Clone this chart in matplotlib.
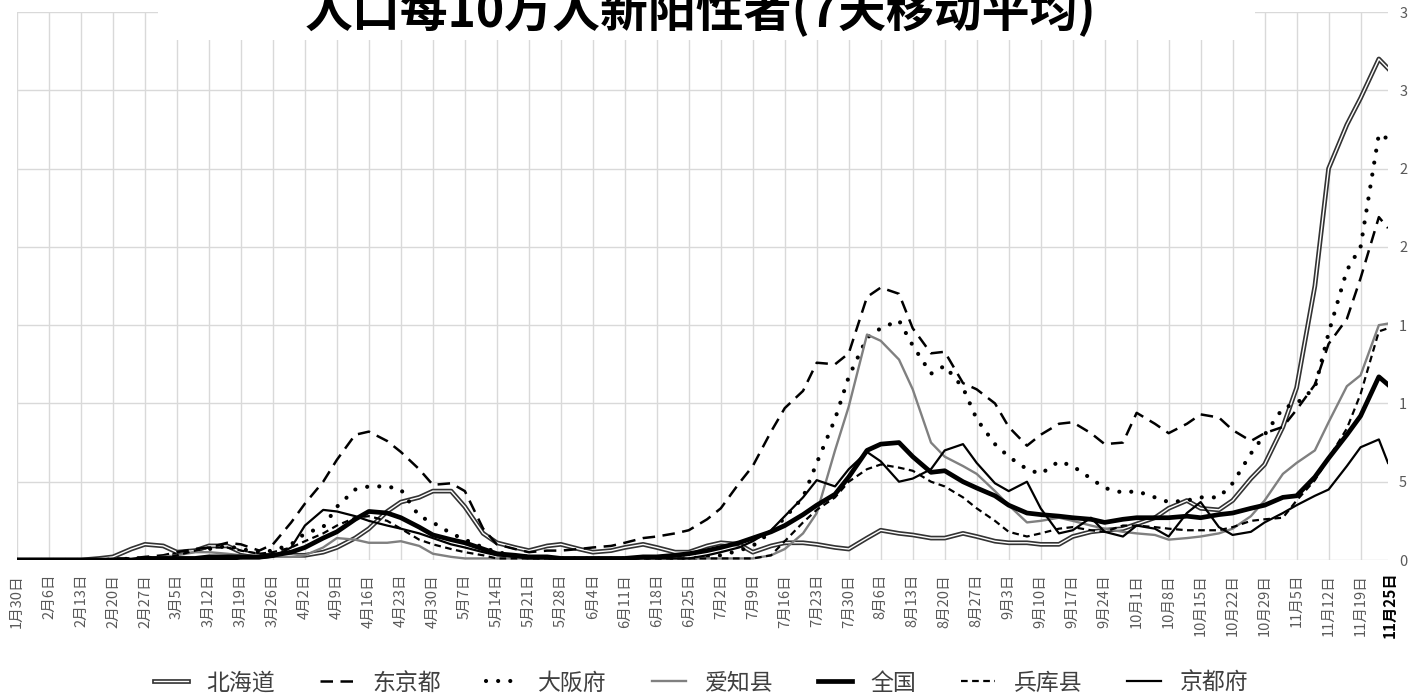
import matplotlib
matplotlib.use("Agg")
import matplotlib.pyplot as plt
import matplotlib.patheffects as pe
from matplotlib.patches import Rectangle
import pandas as pd

plt.rcParams['font.family'] = ['Noto Sans CJK SC', 'DejaVu Sans']

# 1月30日起的天数
dias = [0, 4, 7, 11, 14, 18, 21, 25, 28, 32, 35, 39, 42, 46, 49, 53, 56, 60, 63, 67,
        70, 74, 77, 81, 84, 88, 91, 95, 98, 102, 105, 109, 112, 116, 119, 123, 126, 130,
        133, 137, 140, 144, 147, 151, 154, 158, 161, 165, 168, 172, 175, 179, 182, 186,
        189, 193, 196, 200, 203, 207, 210, 214, 217, 221, 224, 228, 231, 235, 238, 242,
        245, 249, 252, 256, 259, 263, 266, 270, 273, 277, 280, 284, 287, 291, 294, 298, 300]

hokkaido = [0, 0, 0, 0, 0, 0.01, 0.02, 0.07, 0.10, 0.09, 0.05, 0.06, 0.09, 0.09, 0.05, 0.03,
            0.03, 0.03, 0.03, 0.05, 0.08, 0.14, 0.20, 0.31, 0.37, 0.40, 0.44, 0.44, 0.34, 0.17,
            0.11, 0.08, 0.06, 0.09, 0.10, 0.07, 0.05, 0.06, 0.08, 0.10, 0.08, 0.05, 0.05, 0.09,
            0.11, 0.10, 0.05, 0.09, 0.11, 0.11, 0.10, 0.08, 0.07, 0.14, 0.19, 0.17, 0.16, 0.14,
            0.14, 0.17, 0.15, 0.12, 0.11, 0.11, 0.10, 0.10, 0.15, 0.18, 0.19, 0.20, 0.23, 0.27,
            0.33, 0.38, 0.33, 0.32, 0.38, 0.52, 0.61, 0.85, 1.10, 1.75, 2.50, 2.78, 2.95, 3.20, 3.14]

tokyo = [0, 0, 0, 0, 0, 0, 0.01, 0.01, 0.02, 0.03, 0.05, 0.07, 0.08, 0.11, 0.10, 0.06,
         0.10, 0.24, 0.36, 0.50, 0.64, 0.80, 0.82, 0.76, 0.69, 0.58, 0.48, 0.49, 0.44, 0.20,
         0.10, 0.07, 0.05, 0.06, 0.06, 0.07, 0.08, 0.09, 0.11, 0.14, 0.15, 0.17, 0.19, 0.26,
         0.33, 0.49, 0.60, 0.82, 0.97, 1.08, 1.26, 1.25, 1.32, 1.68, 1.74, 1.70, 1.48, 1.32,
         1.33, 1.13, 1.09, 1.00, 0.85, 0.73, 0.80, 0.87, 0.88, 0.81, 0.74, 0.75, 0.94, 0.87,
         0.81, 0.87, 0.93, 0.91, 0.83, 0.76, 0.81, 0.85, 0.96, 1.12, 1.38, 1.54, 1.80, 2.19, 2.12]

osaka = [0, 0, 0, 0, 0, 0, 0, 0.01, 0.01, 0.02, 0.04, 0.06, 0.07, 0.09, 0.07, 0.05,
         0.06, 0.10, 0.17, 0.21, 0.34, 0.45, 0.47, 0.47, 0.45, 0.28, 0.24, 0.17, 0.13, 0.08,
         0.05, 0.03, 0.02, 0.01, 0.01, 0.01, 0.01, 0.01, 0.01, 0.01, 0.01, 0.01, 0.01, 0.02,
         0.03, 0.06, 0.09, 0.18, 0.27, 0.40, 0.62, 0.90, 1.17, 1.42, 1.48, 1.53, 1.37, 1.19,
         1.24, 1.10, 0.90, 0.74, 0.66, 0.58, 0.55, 0.63, 0.60, 0.52, 0.46, 0.43, 0.44, 0.40,
         0.37, 0.38, 0.40, 0.40, 0.49, 0.68, 0.80, 0.97, 1.00, 1.10, 1.45, 1.85, 2.00, 2.72, 2.69]

aichi = [0, 0, 0, 0, 0, 0, 0, 0, 0.01, 0.02, 0.03, 0.05, 0.05, 0.04, 0.03, 0.02,
         0.02, 0.02, 0.03, 0.08, 0.14, 0.13, 0.11, 0.11, 0.12, 0.09, 0.04, 0.02, 0.01, 0.01,
         0.01, 0.01, 0.01, 0.01, 0.01, 0.01, 0.01, 0.01, 0.01, 0.01, 0.01, 0.01, 0.01, 0.01,
         0.01, 0.01, 0.01, 0.03, 0.07, 0.17, 0.30, 0.70, 0.98, 1.44, 1.40, 1.28, 1.09, 0.75,
         0.66, 0.60, 0.55, 0.44, 0.35, 0.24, 0.25, 0.27, 0.25, 0.22, 0.20, 0.18, 0.17, 0.16,
         0.13, 0.14, 0.15, 0.17, 0.20, 0.28, 0.38, 0.55, 0.62, 0.70, 0.88, 1.11, 1.18, 1.50, 1.51]

quanguo = [0, 0, 0, 0, 0, 0, 0, 0, 0.01, 0.01, 0.01, 0.01, 0.02, 0.02, 0.02, 0.02,
           0.03, 0.05, 0.08, 0.14, 0.18, 0.26, 0.31, 0.30, 0.27, 0.21, 0.16, 0.13, 0.11, 0.07,
           0.04, 0.03, 0.02, 0.02, 0.01, 0.01, 0.01, 0.01, 0.01, 0.02, 0.02, 0.03, 0.04, 0.06,
           0.08, 0.11, 0.14, 0.18, 0.22, 0.29, 0.35, 0.42, 0.53, 0.70, 0.74, 0.75, 0.66, 0.56,
           0.57, 0.50, 0.46, 0.41, 0.35, 0.30, 0.29, 0.28, 0.27, 0.26, 0.24, 0.26, 0.27, 0.27,
           0.27, 0.28, 0.27, 0.29, 0.30, 0.33, 0.35, 0.40, 0.41, 0.53, 0.65, 0.80, 0.92, 1.17, 1.12]

hyogo = [0, 0, 0, 0, 0, 0, 0, 0, 0, 0.01, 0.03, 0.06, 0.08, 0.08, 0.06, 0.04,
         0.05, 0.08, 0.12, 0.17, 0.22, 0.27, 0.28, 0.25, 0.20, 0.13, 0.10, 0.07, 0.05, 0.03,
         0.01, 0.01, 0.01, 0.01, 0.01, 0.01, 0.01, 0.01, 0.01, 0.01, 0.01, 0.01, 0.01, 0.01,
         0.01, 0.01, 0.01, 0.03, 0.12, 0.24, 0.32, 0.40, 0.50, 0.58, 0.61, 0.59, 0.57, 0.50,
         0.47, 0.40, 0.33, 0.25, 0.18, 0.15, 0.17, 0.20, 0.21, 0.19, 0.18, 0.22, 0.22, 0.21,
         0.20, 0.19, 0.19, 0.19, 0.21, 0.25, 0.26, 0.27, 0.38, 0.51, 0.65, 0.84, 1.06, 1.46, 1.48]

kyoto = [0, 0, 0, 0, 0, 0, 0, 0, 0, 0, 0, 0, 0, 0, 0.01, 0.01,
         0.02, 0.08, 0.22, 0.32, 0.31, 0.28, 0.25, 0.22, 0.20, 0.17, 0.14, 0.10, 0.08, 0.05,
         0.03, 0.02, 0.01, 0.01, 0.01, 0.01, 0.01, 0.01, 0.01, 0.01, 0.01, 0.01, 0.01, 0.03,
         0.05, 0.08, 0.12, 0.19, 0.28, 0.40, 0.51, 0.47, 0.58, 0.69, 0.63, 0.50, 0.52, 0.58,
         0.70, 0.74, 0.62, 0.49, 0.44, 0.50, 0.33, 0.17, 0.19, 0.27, 0.18, 0.15, 0.22, 0.20,
         0.15, 0.30, 0.37, 0.21, 0.16, 0.18, 0.24, 0.30, 0.35, 0.41, 0.45, 0.60, 0.72, 0.77, 0.62]

y_ticks = [0, 0.5, 1.0, 1.5, 2.0, 2.5, 3.0, 3.5]
y_labels = ["0", "5", "1", "1", "2", "2", "3", "3"]

inicio = pd.Timestamp("2020-01-30")
fim = pd.Timestamp("2020-11-25")
datas = inicio + pd.to_timedelta(dias, unit="D")

fig = plt.figure(figsize=(14.14, 6.97), dpi=100)
ax = fig.add_axes([17 / 1414, 137 / 697, 1371 / 1414, 548 / 697])

cinza_grade = "#d9d9d9"
cinza_texto = "#595959"

# 北海道: 双线
ax.plot(datas, hokkaido, color="white", lw=1.0, label="北海道", zorder=3,
        path_effects=[pe.Stroke(linewidth=3.4, foreground="#333333"), pe.Normal()])
ax.plot(datas, tokyo, color="black", lw=1.8, linestyle=(0, (5, 3)), label="东京都", zorder=3)
ax.plot(datas, osaka, color="black", lw=3.0, linestyle=(0, (0.01, 2.9)),
        dash_capstyle="round", label="大阪府", zorder=3)
ax.plot(datas, aichi, color="#808080", lw=1.7, label="爱知县", zorder=3)
ax.plot(datas, quanguo, color="black", lw=3.4, label="全国", zorder=4)
ax.plot(datas, hyogo, color="black", lw=1.6, linestyle=(0, (3, 2)), label="兵库县", zorder=3)
ax.plot(datas, kyoto, color="black", lw=1.6, label="京都府", zorder=3)

ax.set_xlim(inicio, fim)
ax.set_ylim(0, 3.5)

semanas = pd.date_range(inicio, fim, freq="7D")
ax.set_xticks(semanas)
ax.set_xticklabels([f"{d.month}月{d.day}日" for d in semanas], rotation=90,
                   fontsize=10.5, color=cinza_texto)
ax.tick_params(axis="x", length=0, pad=10)

ax.yaxis.tick_right()
ax.set_yticks(y_ticks)
ax.set_yticklabels(y_labels, fontsize=10.5, color=cinza_texto)
ax.tick_params(axis="y", length=0, pad=8)

ax.grid(True, color=cinza_grade, lw=1.0, zorder=0)
ax.set_axisbelow(True)
for s in ax.spines.values():
    s.set_visible(False)

# 最后一天标签
ax.annotate(f"{fim.month}月{fim.day}日", xy=(fim, 0), xycoords=("data", "axes fraction"),
            xytext=(1, -8), textcoords="offset points", rotation=90, ha="center", va="top",
            fontsize=11, fontweight="bold", color="black", annotation_clip=False)

# 标题 (白底遮住网格)
fig.add_artist(Rectangle((158 / 1414, 657 / 697), (1255 - 158) / 1414, 40 / 697,
                         transform=fig.transFigure, facecolor="white", edgecolor="none", zorder=5))
fig.text(700 / 1414, 0.985, "人口每10万人新阳性者(7天移动平均)", ha="center", va="center",
         fontsize=34.5, fontweight="bold", color="black", zorder=6)

fig.legend(loc="center", bbox_to_anchor=(701 / 1414, 14 / 697), ncol=7, frameon=False,
           fontsize=16.5, handlelength=1.5, handletextpad=0.8, columnspacing=1.95,
           labelcolor="#404040")

fig.savefig("out.png", dpi=100)
